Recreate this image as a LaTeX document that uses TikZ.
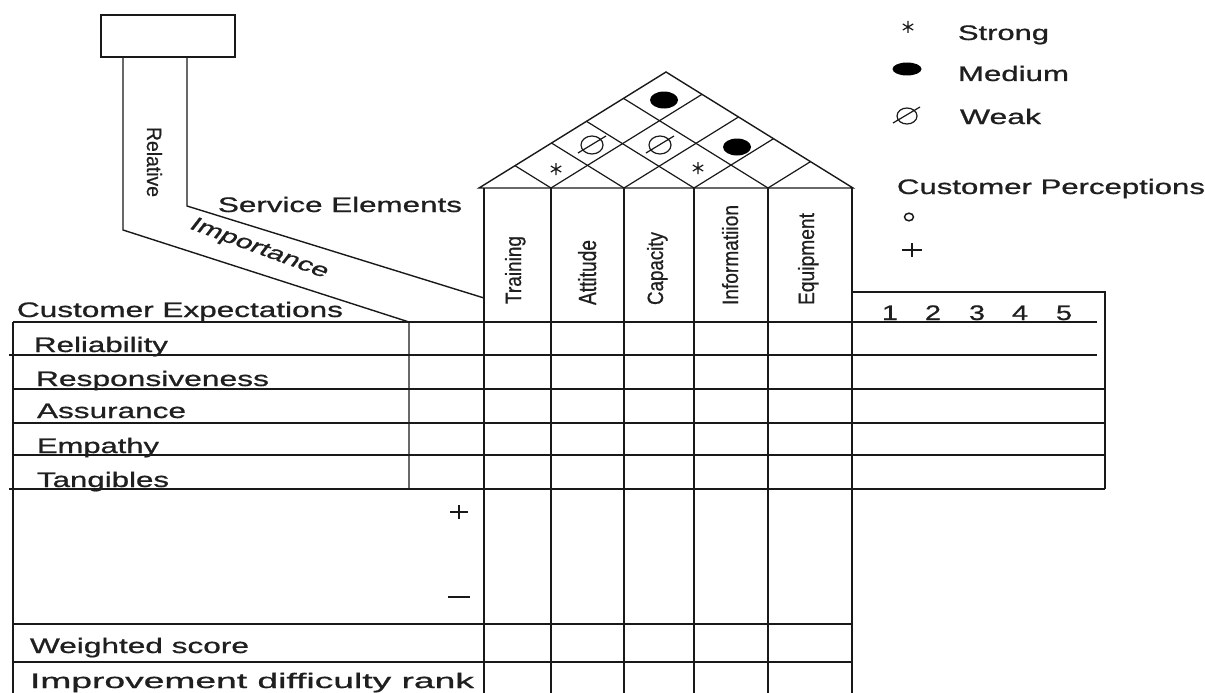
\documentclass[tikz,border=0pt]{standalone}
\usepackage{fontspec}
\setmainfont{Liberation Sans}
\newfontfamily\scanfont[RawFeature={embolden=0.7}]{Liberation Sans}
\usepackage{graphicx}
\usetikzlibrary{calc}
\newcommand{\wt}[2]{\resizebox{#1pt}{\height}{#2}}
\newcommand{\vt}[3]{\resizebox{#1pt}{#2pt}{#3}}
\tikzset{
  lbl/.style={anchor=base west, inner sep=0, outer sep=0, font=\scanfont\fontsize{21}{24}\selectfont, text=black!88},
  dig/.style={anchor=base, inner sep=0, outer sep=0, font=\scanfont\fontsize{21}{24}\selectfont, text=black!88},
  vlbl/.style={anchor=base west, inner sep=0, outer sep=0, font=\scanfont\fontsize{21}{24}\selectfont, text=black!88},
  grid/.style={line width=1.4pt, draw=black!90},
  thin/.style={line width=1.2pt, draw=black!90},
  astk/.pic={\draw[line width=1.2pt, black!90] (0,-6)--(0,6) (-5.2,-3)--(5.2,3) (-5.2,3)--(5.2,-3);},
  weakc/.pic={\draw[line width=1.2pt, black!90] (0,0) ellipse [x radius=11, y radius=9] (-14,8) -- (14,-9);},
  medc/.pic={\fill[black] (0,0) ellipse [x radius=14, y radius=8.5];}
}
\begin{document}
\begin{tikzpicture}[x=1pt,y=-1pt]
\useasboundingbox (0,0) rectangle (1205,693);
\fill[white] (0,0) rectangle (1205,693);

% --- relative importance chimney ---
\coordinate (bx1) at (101,15);
\coordinate (bx2) at (235,57);
\draw[grid] (bx1) rectangle (bx2);
\coordinate (r1) at (123,57);
\coordinate (r2) at (123,230);
\coordinate (r3) at (409,322);
\coordinate (r4) at (409,489);
\coordinate (s1) at (187,57);
\coordinate (s2) at (187,206);
\coordinate (s3) at (484,298);
\draw[grid] (r1) -- (r2) -- (r3) -- (r4);
\draw[grid] (s1) -- (s2) -- (s3);

% --- roof ---
\coordinate (A) at (479,188);
\coordinate (B) at (853,188);
\coordinate (P) at (666,72);
\draw[grid, line join=miter] (A) -- (P) -- (B) -- cycle;
\foreach \b/\lx/\ly/\rx/\ry in {551/515/165.67/702/94.33, 624/551.5/143.03/738.5/116.98, 694/586.5/121.32/773.5/138.69, 768/623.5/98.37/810.5/161.64}{
  \coordinate (rb) at (\b,188);
  \coordinate (rl) at (\lx,\ly);
  \coordinate (rr) at (\rx,\ry);
  \draw[thin] (rl) -- (rb) -- (rr);
}
\pic at (556,169) {astk};
\pic at (592,145) {weakc};
\pic at (664,100) {medc};
\pic at (660,145) {weakc};
\pic at (698,168) {astk};
\pic at (737,147) {medc};

% --- columns ---
\foreach \cx in {484,551,624,694,768,852}{
  \coordinate (ct) at (\cx,188);
  \coordinate (cb) at (\cx,693);
  \draw[grid] (ct) -- (cb);
}

% --- horizontal rules ---
\draw[grid] (13,322) -- (1097,322);
\draw[grid] (9,355) -- (1097,355);
\draw[grid] (13,389) -- (1105,389);
\draw[grid] (13,423) -- (1105,423);
\draw[grid] (13,455) -- (1105,455);
\draw[grid] (9,489) -- (1105,489);
\draw[grid] (13,624) -- (852,624);
\draw[grid] (13,662) -- (852,662);
\draw[grid] (13,322) -- (13,693);
\draw[grid, line join=miter] (852,292) -- (1105,292) -- (1105,489);

% --- texts ---
\node[vlbl, rotate=-90] (relt) at (147,127) {\vt{70}{15}{Relative}};
\node[inner sep=0, font=\scanfont\fontsize{21}{24}\selectfont, text=black!88] (impt) at (259,249)
  {\scalebox{1.45}[1]{\rotatebox{-28}{\vt{106}{13}{Importance}}}};
\node[lbl] (se) at (218,212) {\wt{244}{Service Elements}};

\node[vlbl, rotate=90] (c1) at (521,304) {\vt{68}{16}{Training}};
\node[vlbl, rotate=90] (c2) at (596,305) {\vt{65}{18}{Attitude}};
\node[vlbl, rotate=90] (c3) at (663,305) {\vt{73}{16}{Capacity}};
\node[vlbl, rotate=90] (c4) at (738,305) {\vt{100}{16}{Informatiion}};
\node[vlbl, rotate=90] (c5) at (814,305) {\vt{92}{16}{Equipment}};

\node[lbl] (ce) at (17,317) {\wt{326}{Customer Expectations}};
\node[lbl] (rel) at (34,352) {\wt{134}{Reliability}};
\node[lbl] (resp) at (36,386) {\wt{233}{Responsiveness}};
\node[lbl] (ass) at (37,418) {\wt{149}{Assurance}};
\node[lbl] (emp) at (37,453) {\wt{122}{Empathy}};
\node[lbl] (tan) at (37,487) {\wt{132}{Tangibles}};
\node[lbl] (ws) at (30,653) {\wt{219}{Weighted score}};
\node[lbl] (idr) at (30,688) {\wt{444}{Improvement difficulty rank}};

% plus / minus
\coordinate (pc) at (459,512);
\draw[line width=1.8pt, black!90] ($(pc)+(-9,0)$) -- ($(pc)+(9,0)$) ($(pc)+(0,-7)$) -- ($(pc)+(0,7)$);
\coordinate (mc) at (459,597);
\draw[line width=2.2pt, black!90] ($(mc)+(-11,0)$) -- ($(mc)+(11,0)$);

% --- legend ---
\pic at (908,27) {astk};
\node[lbl] (st) at (958,40) {\wt{91}{Strong}};
\fill[black] (907,69) ellipse [x radius=14.5, y radius=6.5];
\node[lbl] (md) at (958,81) {\wt{111}{Medium}};
\draw[line width=1.2pt, black!90] (907,116) ellipse [x radius=10, y radius=8] (893,123) -- (920,107);
\node[lbl] (wk) at (960,124) {\wt{81}{Weak}};
\node[lbl] (cp) at (897,194) {\wt{308}{Customer Perceptions}};
\draw[line width=1.5pt, black!90] (909,217) ellipse [x radius=4.5, y radius=3.8];
\draw[line width=1.8pt, black!90] (902,250) -- (922,250) (912,243) -- (912,257);

% --- perception scale ---
\node[dig] (n1) at (890,320) {\wt{16}{1}};
\node[dig] (n2) at (933,320) {\wt{16}{2}};
\node[dig] (n3) at (977,320) {\wt{16}{3}};
\node[dig] (n4) at (1020,320) {\wt{16}{4}};
\node[dig] (n5) at (1064,320) {\wt{16}{5}};
\end{tikzpicture}
\end{document}
